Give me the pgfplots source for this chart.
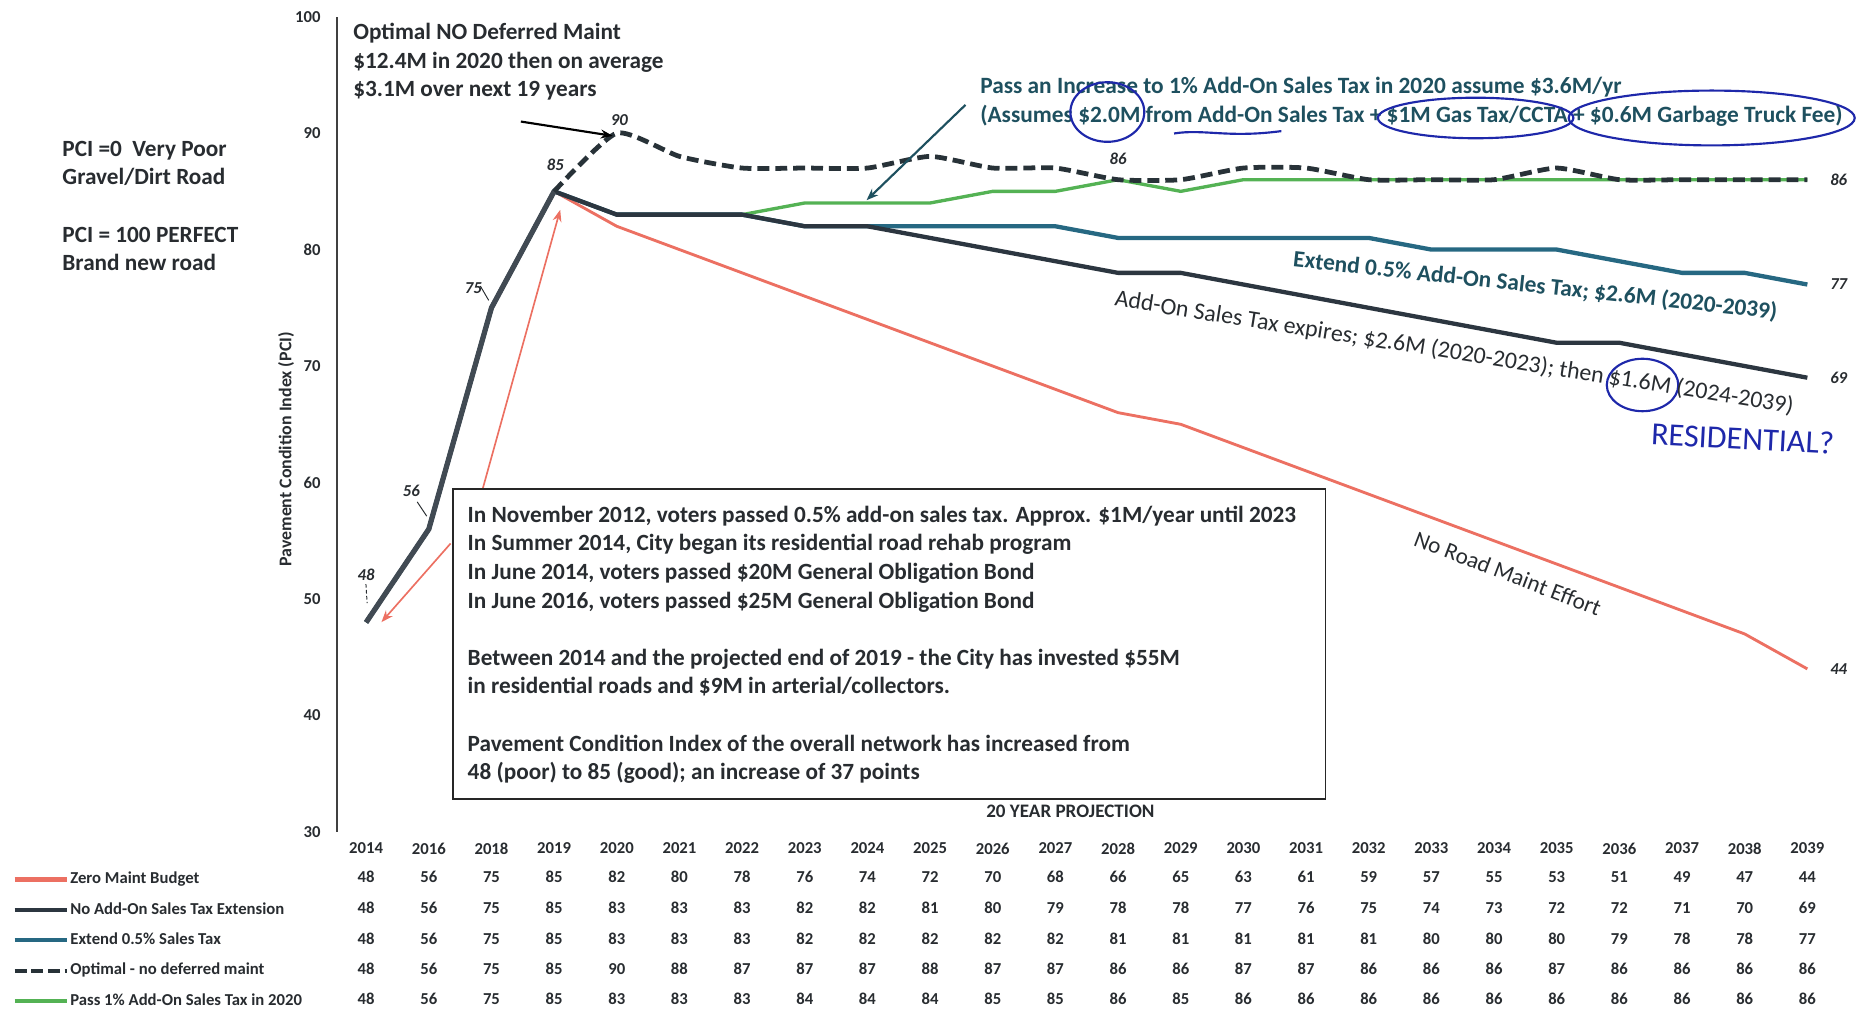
\documentclass[border=0pt]{standalone}
\usepackage{fontspec}
\setmainfont{Carlito}
\usepackage{pgfplots}
\usepackage{pgfplotstable}
\pgfplotsset{compat=1.18}
\usetikzlibrary{arrows.meta}

\definecolor{zeroc}{RGB}{236,112,98}
\definecolor{darkc}{RGB}{44,54,64}
\definecolor{tealc}{RGB}{38,104,130}
\definecolor{greenc}{RGB}{84,178,84}
\definecolor{optc}{RGB}{40,50,56}
\definecolor{inkc}{RGB}{30,40,170}
\definecolor{txtc}{RGB}{40,44,48}
\definecolor{passtxt}{RGB}{30,80,95}

\pgfplotstableread{
idx year zero noaddon extend optimal pass
0  2014 48 48 48 48 48
1  2016 56 56 56 56 56
2  2018 75 75 75 75 75
3  2019 85 85 85 85 85
4  2020 82 83 83 90 83
5  2021 80 83 83 88 83
6  2022 78 83 83 87 83
7  2023 76 82 82 87 84
8  2024 74 82 82 87 84
9  2025 72 81 82 88 84
10 2026 70 80 82 87 85
11 2027 68 79 82 87 85
12 2028 66 78 81 86 86
13 2029 65 78 81 86 85
14 2030 63 77 81 87 86
15 2031 61 76 81 87 86
16 2032 59 75 81 86 86
17 2033 57 74 80 86 86
18 2034 55 73 80 86 86
19 2035 53 72 80 87 86
20 2036 51 72 79 86 86
21 2037 49 71 78 86 86
22 2038 47 70 78 86 86
23 2039 44 69 77 86 86
}\pcitable

\newcommand\ann{\fontsize{9.75}{12}\selectfont\bfseries}
\newcommand\tbl{\fontsize{7}{8}\selectfont\bfseries}

\begin{document}
\begin{tikzpicture}
  % 1 px of the reference (1568 wide) = 0.5pt, origin at the axis corner
  \begin{scope}[x=0.5pt, y=-0.5pt, shift={(-141.5pt,349pt)}]
    \useasboundingbox (0,0) rectangle (1568,848);
  \end{scope}

  \begin{axis}[
    at={(0,0)}, anchor=south west,
    x=26.285pt, y=4.886pt,
    xmin=-0.46, xmax=23.5,
    ymin=30, ymax=100,
    axis y line=left, axis x line=bottom,
    x axis line style={draw=none},
    y axis line style={-, line width=0.7pt, black!75},
    xtick={0,...,23},
    xticklabels from table={\pcitable}{year},
    ytick={30,40,...,100},
    major tick length=0pt,
    tick label style={font=\tbl, text=txtc},
    xticklabel style={yshift=-1pt},
    yticklabel style={xshift=-3.5pt},
    /pgf/number format/assume math mode=true,
    clip=false,
    legend cell align=left,
    legend image code/.code={\draw[#1] (0pt,0pt) -- (22pt,0pt);},
    legend style={
      at={(rel axis cs:-0.2167,-0.0468)}, anchor=north west,
      draw=none, fill=none, inner sep=0pt,
      font=\tbl, text=txtc, row sep=5.25pt,
      nodes={inner sep=0.5pt, text height=5pt, text depth=1.5pt},
    },
  ]
    \addplot[zeroc, line width=1.2pt, forget plot] table[x=idx, y=zero] {\pcitable};
    \addplot[greenc, line width=1.4pt, forget plot] table[x=idx, y=pass] {\pcitable};
    \addplot[tealc, line width=1.8pt, forget plot] table[x=idx, y=extend] {\pcitable};
    \addplot[darkc, line width=1.8pt, forget plot] table[x=idx, y=noaddon] {\pcitable};
    \addplot[darkc!90, line width=2.2pt, forget plot, restrict x to domain=0:3]
      table[x=idx, y=noaddon] {\pcitable};
    \addplot[optc, line width=2pt, dash pattern=on 5pt off 2.5pt, smooth, tension=0.35,
      restrict x to domain=3:23, forget plot]
      table[x=idx, y=optimal] {\pcitable};

    \addlegendimage{zeroc, line width=1.8pt}
    \addlegendentry{Zero Maint Budget}
    \addlegendimage{darkc, line width=1.8pt}
    \addlegendentry{No Add-On Sales Tax Extension}
    \addlegendimage{tealc, line width=1.8pt}
    \addlegendentry{Extend 0.5\% Sales Tax}
    \addlegendimage{optc, line width=1.8pt, dash pattern=on 5pt off 2pt}
    \addlegendentry{Optimal - no deferred maint}
    \addlegendimage{greenc, line width=1.8pt}
    \addlegendentry{Pass 1\% Add-On Sales Tax in 2020}

    % data table under the chart
    \foreach \col/\yy in {zero/26.11, noaddon/23.45, extend/20.79, optimal/18.23, pass/15.67} {
      \foreach \i in {0,...,23} {
        \pgfplotstablegetelem{\i}{\col}\of\pcitable
        \edef\temp{\noexpand\node[font=\noexpand\tbl, text=txtc] at (axis cs:\i,\yy) {\pgfplotsretval};}
        \temp
      }
    }

    % point labels
    \begin{scope}[font=\tbl\itshape, text=txtc]
      \node at (axis cs:0,52.1) {48};
      \node at (axis cs:0.72,59.3) {56};
      \node at (axis cs:1.71,76.7) {75};
      \node at (axis cs:3.02,87.3) {85};
      \node at (axis cs:4.04,91.1) {90};
      \node at (axis cs:12,87.8) {86};
      \node at (axis cs:23.5,86) {86};
      \node at (axis cs:23.5,77) {77};
      \node at (axis cs:23.5,69) {69};
      \node at (axis cs:23.5,44) {44};
    \end{scope}
  \end{axis}

  \begin{scope}[x=0.5pt, y=-0.5pt, shift={(-141.5pt,349pt)}]
    % leaders of the point labels
    \draw[txtc, line width=0.4pt, dash pattern=on 1.5pt off 1pt] (307,490) -- (308,506);
    \draw[txtc, line width=0.4pt] (350,421) -- (358,433);
    \draw[txtc, line width=0.4pt] (403,240) -- (410,252);

    % left notes
    \node[anchor=north west, align=left, font=\ann, text=txtc, inner sep=0pt] at (52,118)
      {PCI =0\ \ Very Poor\\Gravel/Dirt Road\\[12pt]PCI = 100 PERFECT\\Brand new road};

    % optimal note
    \node[anchor=north west, align=left, font=\ann, text=txtc, inner sep=0pt] at (296,19)
      {Optimal NO Deferred Maint\\\$12.4M in 2020 then on average\\\$3.1M over next 19 years};
    \draw[-{Stealth[length=5pt]}, line width=0.9pt, black] (437,102) -- (514,114);

    % pass note
    \node[anchor=north west, align=left, font=\fontsize{9.8}{12.5}\selectfont\bfseries,
      text=passtxt, inner sep=0pt] at (822,64)
      {Pass an Increase to 1\% Add-On Sales Tax in 2020 assume \$3.6M/yr\\
       (Assumes \$2.0M from Add-On Sales Tax + \$1M Gas Tax/CCTA + \$0.6M Garbage Truck Fee)};
    \draw[-{Stealth[length=5pt]}, line width=0.9pt, passtxt] (810,88) -- (727,168);

    % hand-drawn circles
    \begin{scope}[inkc, line width=0.9pt]
      \draw (929,94) ellipse (31 and 25);
      \draw (1238,99) ellipse (82 and 17);
      \draw (1436,99) ellipse (120 and 23);
      \draw (1378,323) ellipse (30 and 22);
      \draw (985,112) .. controls (1010,108) and (1030,116) .. (1075,110);
    \end{scope}
    \node[font=\fontsize{13.5}{14}\selectfont, text=inkc, rotate=-3] at (1462,368) {RESIDENTIAL?};

    % series labels
    \node[font=\fontsize{9.8}{10}\selectfont\bfseries, text=passtxt, rotate=-6.2] at (1288,240)
      {Extend 0.5\% Add-On Sales Tax; \$2.6M (2020-2039)};
    \node[font=\fontsize{10}{10}\selectfont, text=txtc, rotate=-9] at (1220,296)
      {Add-On Sales Tax expires; \$2.6M (2020-2023); then \$1.6M (2024-2039)};
    \node[font=\fontsize{9.7}{10}\selectfont, text=txtc, rotate=-21] at (1265,481)
      {No Road Maint Effort};

    % red callouts to 48 and 85
    \draw[-{Stealth[length=5pt]}, zeroc, line width=0.7pt] (405,410) -- (470,176);
    \draw[-{Stealth[length=5pt]}, zeroc, line width=0.7pt] (378,456) -- (320,522);

    % text box
    \draw[draw=black!85, fill=white, line width=0.8pt] (380,410) rectangle (1112,670);
    \node[anchor=north west, align=left, font=\ann, text=txtc, inner sep=0pt] at (392,424)
      {In November 2012, voters passed 0.5\% add-on sales tax. Approx. \$1M/year until 2023\\
       In Summer 2014, City began its residential road rehab program\\
       In June 2014, voters passed \$20M General Obligation Bond\\
       In June 2016, voters passed \$25M General Obligation Bond\\[12pt]
       Between 2014 and the projected end of 2019 - the City has invested \$55M\\
       in residential roads and \$9M in arterial/collectors.\\[12pt]
       Pavement Condition Index of the overall network has increased from\\
       48 (poor) to 85 (good); an increase of 37 points};

    \node[font=\fontsize{8}{9}\selectfont\bfseries, text=txtc] at (898,681) {20 YEAR PROJECTION};
    \node[font=\fontsize{7.5}{8}\selectfont\bfseries, text=txtc, rotate=90] at (240,377)
      {Pavement Condition Index (PCI)};
  \end{scope}
\end{tikzpicture}
\end{document}
